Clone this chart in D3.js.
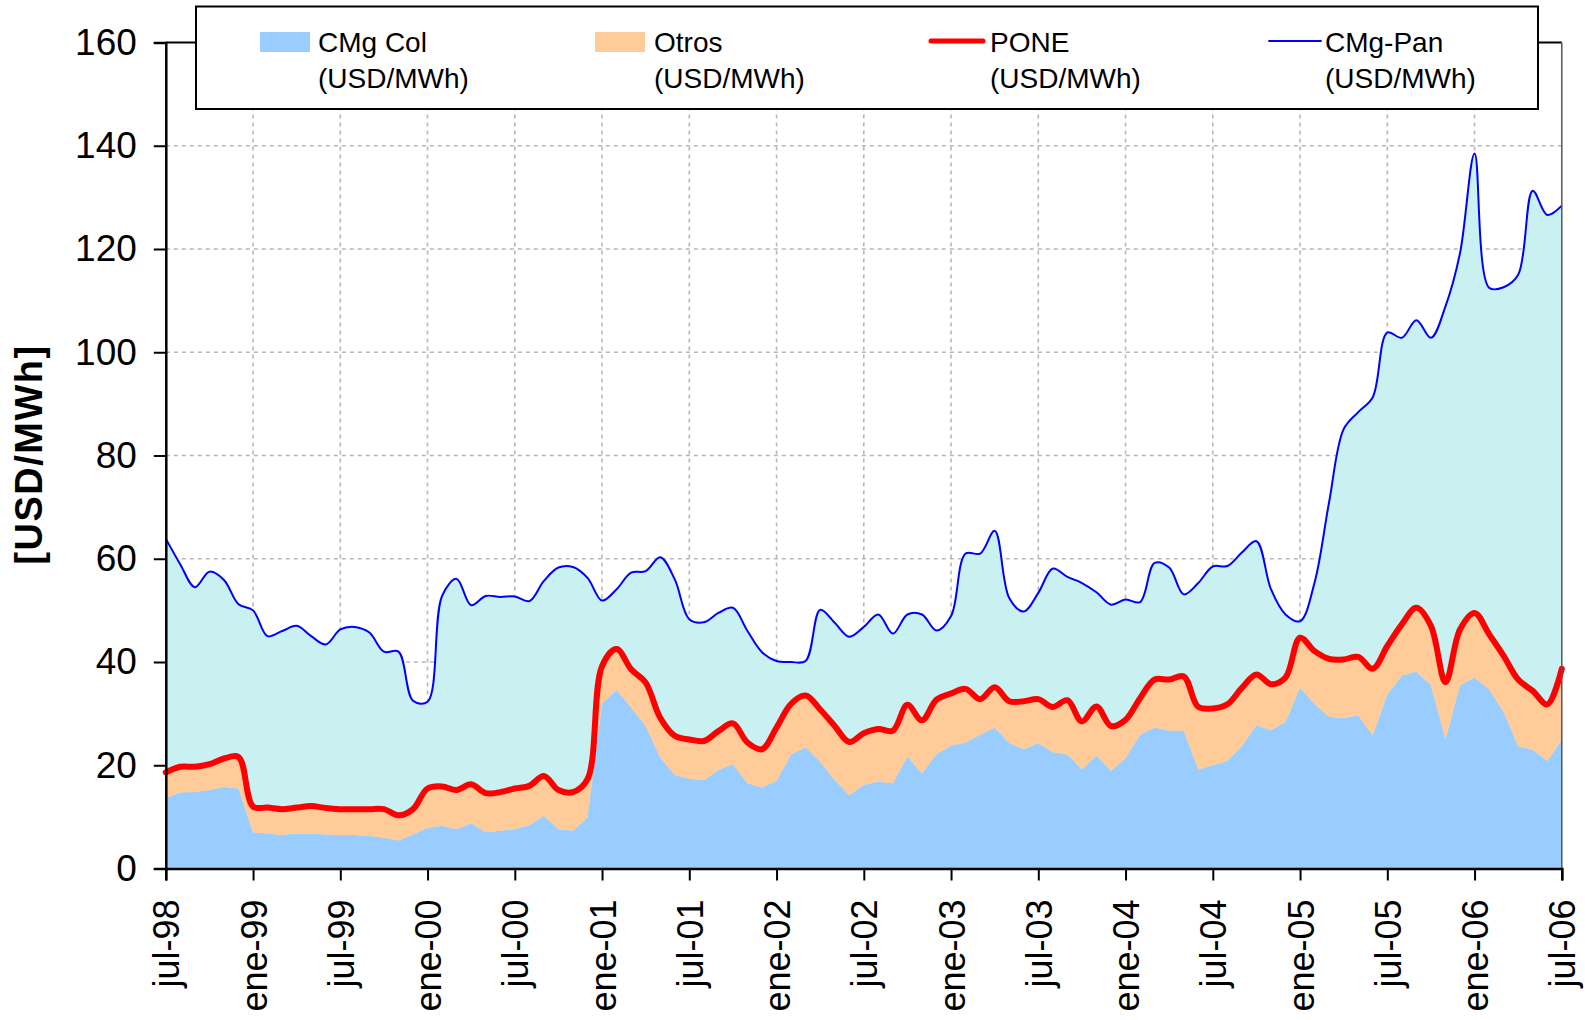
<!DOCTYPE html>
<html>
<head>
<meta charset="utf-8">
<script src="https://cdn.jsdelivr.net/npm/d3@7"></script>
<style>
  html, body { margin: 0; padding: 0; background: #ffffff; }
  svg { display: block; font-family: "Liberation Sans", Arial, sans-serif; }
</style>
</head>
<body>
<svg id="chart" width="1585" height="1020"></svg>
<script>
// ---- DATA (monthly, jul-98 .. jul-06) ----
const tickLabels = ["jul-98","ene-99","jul-99","ene-00","jul-00","ene-01","jul-01","ene-02","jul-02",
                    "ene-03","jul-03","ene-04","jul-04","ene-05","jul-05","ene-06","jul-06"];
const yTicks = [0, 20, 40, 60, 80, 100, 120, 140, 160];

const cmgCol = [13.7,14.7,14.8,15.2,15.8,15.5,7.0,6.8,6.5,6.8,6.8,6.6,6.5,6.5,6.3,6.0,5.4,6.6,7.9,8.3,
                7.6,8.7,7.0,7.3,7.6,8.4,10.2,7.6,7.3,9.9,32.0,34.6,31.2,27.6,21.5,18.1,17.4,17.1,19.1,20.2,
                16.5,15.7,17.0,22.1,23.5,20.7,17.1,14.2,16.2,16.8,16.5,21.7,18.4,22.2,23.8,24.4,25.9,27.3,24.3,23.1,
                24.3,22.5,22.1,19.2,21.9,18.9,21.4,25.9,27.3,26.7,26.7,19.2,20.0,20.8,23.7,27.8,26.8,28.4,35.0,31.8,
                29.4,29.1,29.7,25.8,33.7,37.4,38.1,35.5,25.0,35.5,37.0,34.7,30.3,23.7,23.0,20.8,24.9];

const pone = [18.6,19.7,19.7,20.2,21.3,21.6,12.0,11.8,11.5,11.8,12.1,11.7,11.5,11.5,11.5,11.5,10.3,11.5,15.5,15.9,
              15.2,16.3,14.6,14.8,15.5,16.0,17.9,15.2,14.8,17.3,39.2,42.5,38.6,36.0,29.2,25.7,25.0,24.7,26.6,28.1,
              24.4,23.1,27.3,31.9,33.5,30.8,27.6,24.5,26.2,27.0,26.7,31.7,28.7,32.7,33.9,34.8,32.8,35.1,32.4,32.4,
              32.8,31.3,32.6,28.5,31.4,27.6,28.8,33.0,36.6,36.6,37.2,31.3,31.0,31.8,35.0,37.6,35.7,37.0,44.7,42.1,
              40.6,40.5,41.0,38.7,43.1,47.3,50.5,47.0,36.1,46.3,49.5,45.4,41.2,36.6,34.4,31.8,38.7];

const cmgPan = [63.9,58.9,54.5,57.5,55.9,51.2,50.0,45.0,46.0,47.0,45.0,43.4,46.3,46.8,45.7,42.0,42.0,32.5,32.3,52.8,
                56.1,51.0,52.8,52.6,52.7,51.8,55.7,58.3,58.4,56.3,51.9,54.1,57.3,57.6,60.3,56.0,48.3,47.7,49.5,50.5,
                46.0,41.9,40.2,40.0,40.2,50.1,47.6,44.9,46.8,49.2,45.5,49.2,49.2,46.1,48.9,61.0,61.0,65.4,52.4,49.8,
                53.4,58.1,56.5,55.3,53.5,51.1,52.1,51.6,59.2,58.3,53.1,55.3,58.5,58.6,61.2,63.4,54.1,49.2,47.9,55.4,
                71.0,85.1,88.4,91.3,103.8,102.8,106.2,102.8,108.9,119.2,138.5,112.5,112.6,115.0,131.3,126.6,128.4];

// ---- LAYOUT ----
const svg = d3.select("#chart");
const L = 165.8, R = 1561.8, T = 42.5, B = 868.5;
const n = cmgPan.length;

const x = d3.scaleLinear().domain([0, n - 1]).range([L, R]);
const y = d3.scaleLinear().domain([0, 160]).range([B, T]);

svg.append("rect").attr("width", 1585).attr("height", 1020).attr("fill", "#ffffff");

// table built from arrays
const rows = d3.range(n).map(i => ({
  i, col: cmgCol[i], otros: pone[i] - cmgCol[i], pone: pone[i], pan: cmgPan[i]
}));

// ---- GRID ----
const grid = svg.append("g").attr("stroke", "#b8b8b8").attr("stroke-width", 1.6)
  .attr("stroke-dasharray", "4,4");
yTicks.filter(v => v > 0 && v < 160).forEach(v => {
  grid.append("line").attr("x1", L).attr("x2", R).attr("y1", y(v)).attr("y2", y(v));
});
tickLabels.forEach((t, k) => {
  const m = k * 6;
  if (m > 0 && m < n - 1) {
    grid.append("line").attr("x1", x(m)).attr("x2", x(m)).attr("y1", T).attr("y2", B);
  }
});

// ---- AREAS ----
const smooth = d3.curveCatmullRom.alpha(0.5);

svg.append("path").datum(rows)
  .attr("fill", "#c9f1f1")
  .attr("d", d3.area().x(d => x(d.i)).y0(y(0)).y1(d => y(d.pan)).curve(smooth));

const stack = d3.stack().keys(["col", "otros"])(rows);
const stackColors = { col: "#99ccff", otros: "#ffcc99" };
stack.forEach(layer => {
  svg.append("path").datum(layer)
    .attr("fill", stackColors[layer.key])
    .attr("d", d3.area().x(d => x(d.data.i)).y0(d => y(d[0])).y1(d => y(d[1])));
});

// ---- LINES ----
svg.append("path").datum(rows)
  .attr("fill", "none").attr("stroke", "#ff0000").attr("stroke-width", 6)
  .attr("stroke-linejoin", "round").attr("stroke-linecap", "round")
  .attr("d", d3.line().x(d => x(d.i)).y(d => y(d.pone)).curve(smooth));

svg.append("path").datum(rows)
  .attr("fill", "none").attr("stroke", "#0000ff").attr("stroke-width", 2)
  .attr("stroke-linejoin", "round")
  .attr("d", d3.line().x(d => x(d.i)).y(d => y(d.pan)).curve(smooth));

// ---- BORDER (top & right) ----
svg.append("line").attr("x1", L).attr("x2", R).attr("y1", T).attr("y2", T)
  .attr("stroke", "#000").attr("stroke-width", 2);
svg.append("line").attr("x1", R).attr("x2", R).attr("y1", T).attr("y2", B)
  .attr("stroke", "#555").attr("stroke-width", 1.5);

// ---- AXES ----
const yAxis = d3.axisLeft(y).tickValues(yTicks).tickSize(12).tickPadding(17).tickFormat(d3.format("d"));
const gy = svg.append("g").attr("transform", `translate(${L},0)`).call(yAxis);
gy.select(".domain").attr("stroke", "#000").attr("stroke-width", 2.5);
gy.selectAll(".tick line").attr("stroke", "#000").attr("stroke-width", 2);
gy.selectAll(".tick text").attr("font-size", "37px").attr("fill", "#000")
  .attr("font-family", "'Liberation Sans', Arial, sans-serif");

const xTickVals = tickLabels.map((t, k) => k * 6);
const xAxis = d3.axisBottom(x).tickValues(xTickVals).tickSize(12).tickFormat((d, k) => tickLabels[k]);
const gx = svg.append("g").attr("transform", `translate(0,${B})`).call(xAxis);
gx.select(".domain").attr("stroke", "#000").attr("stroke-width", 2.5);
gx.selectAll(".tick line").attr("stroke", "#000").attr("stroke-width", 2);
gx.selectAll(".tick text")
  .attr("font-size", "36px").attr("fill", "#000")
  .attr("font-family", "'Liberation Sans', Arial, sans-serif")
  .attr("text-anchor", "end")
  .attr("transform", "translate(0,31) rotate(-90)")
  .attr("x", 0).attr("y", 0).attr("dy", "0.36em");

// ---- Y TITLE ----
svg.append("text")
  .attr("transform", "translate(42,454.5) rotate(-90)")
  .attr("text-anchor", "middle")
  .attr("font-size", "38px").attr("font-weight", "bold")
  .attr("letter-spacing", "1.5px")
  .attr("fill", "#000")
  .text("[USD/MWh]");

// ---- LEGEND ----
const lg = svg.append("g");
lg.append("rect").attr("x", 196).attr("y", 6.5).attr("width", 1342).attr("height", 102.5)
  .attr("fill", "#ffffff").attr("stroke", "#000").attr("stroke-width", 2);

const legendItems = [
  { name: "CMg Col", type: "rect", color: "#99ccff", sx: 260, tx: 318 },
  { name: "Otros",   type: "rect", color: "#ffcc99", sx: 595, tx: 654 },
  { name: "PONE",    type: "line", color: "#ff0000", w: 5,   sx: 931, tx: 990 },
  { name: "CMg-Pan", type: "line", color: "#0000ff", w: 1.8, sx: 1269, tx: 1325 }
];
legendItems.forEach(it => {
  if (it.type === "rect") {
    lg.append("rect").attr("x", it.sx).attr("y", 32).attr("width", 50).attr("height", 20).attr("fill", it.color);
  } else {
    lg.append("line").attr("x1", it.sx).attr("x2", it.sx + 52).attr("y1", 41).attr("y2", 41)
      .attr("stroke", it.color).attr("stroke-width", it.w).attr("stroke-linecap", "round");
  }
  lg.append("text").attr("x", it.tx).attr("y", 52).attr("font-size", "28px").attr("fill", "#000").text(it.name);
  lg.append("text").attr("x", it.tx).attr("y", 88).attr("font-size", "28px").attr("fill", "#000").text("(USD/MWh)");
});
</script>
</body>
</html>
